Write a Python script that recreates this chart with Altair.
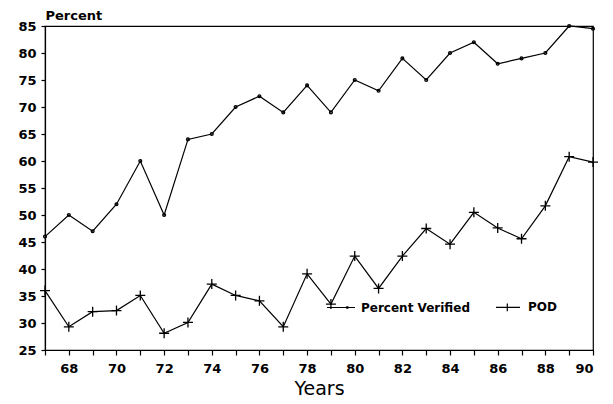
import altair as alt
import pandas as pd

years = list(range(1967, 1991))
verified = [46, 50, 47, 52, 60, 50, 64, 65, 70, 72, 69, 74, 69, 75, 73, 79, 75, 80, 82, 78, 79, 80, 85, 84.5]
pod = [36, 29.3, 32.1, 32.3, 35.1, 28.1, 30.1, 37.2, 35.1, 34.1, 29.3, 39.1, 33.5, 42.4, 36.4, 42.4,
       47.5, 44.6, 50.5, 47.6, 45.6, 51.7, 60.8, 59.8]
series_names = ["Percent Verified", "POD"]
y_ticks = list(range(25, 90, 5))

df = pd.DataFrame({
    "year": years * 2,
    "value": verified + pod,
    "series": [series_names[0]] * len(years) + [series_names[1]] * len(years),
})

FONT = "DejaVu Sans"
DOT = "M0,-1A1,1 0 1,1 0,1A1,1 0 1,1 0,-1Z"
CROSS = "M-1,0L1,0M0,-1L0,1"
LEG_DOT = "M-1,0L1,0M0.41,-0.04L0.49,-0.04L0.49,0.04L0.41,0.04Z"
LEG_CROSS = "M-0.86,0L0.86,0M-0.05,-0.28L-0.05,0.28"

x = alt.X("year:Q",
          scale=alt.Scale(domain=[1967, 1990], nice=False, zero=False),
          axis=alt.Axis(values=years, title="Years", grid=False,
                        labelExpr="datum.value % 2 == 0 ? format(datum.value % 100, '02d') : ''",
                        tickSize=5, labelPadding=7, titleFontSize=19, titleFontWeight="normal",
                        titlePadding=4, labelFontSize=13, labelFontWeight="bold"))
y = alt.Y("value:Q",
          scale=alt.Scale(domain=[25, 85], nice=False, zero=False),
          axis=alt.Axis(values=y_ticks, title="Percent", grid=False, titleAngle=0,
                        titleX=0, titleY=-7, titleAlign="left", titleBaseline="alphabetic",
                        titleFontSize=13, titleFontWeight="bold",
                        tickSize=4, labelPadding=5, labelFontSize=13, labelFontWeight="bold"))

base = alt.Chart(df)

lines = base.mark_line(color="black", strokeWidth=1.2).encode(x=x, y=y, detail="series:N")

points = base.mark_point(color="black", filled=False, strokeWidth=1.3, opacity=1).encode(
    x=x, y=y,
    shape=alt.Shape("series:N", scale=alt.Scale(domain=series_names, range=[DOT, CROSS]), legend=None),
    size=alt.Size("series:N", scale=alt.Scale(domain=series_names, range=[8, 100]), legend=None),
)

legend_layer = base.mark_point(color="black", filled=False, opacity=0, strokeWidth=1.2).encode(
    x=x, y=y,
    shape=alt.Shape("series:N",
                    scale=alt.Scale(domain=series_names, range=[LEG_DOT, LEG_CROSS]),
                    legend=alt.Legend(title=None, orient="none", direction="horizontal",
                                      legendX=281, legendY=266, symbolSize=784,
                                      symbolOpacity=1, symbolStrokeColor="black",
                                      symbolStrokeWidth=1.2, labelFontSize=12,
                                      labelFontWeight="bold", labelFont=FONT, labelColor="black",
                                      columnPadding=23, labelOffset=5, padding=0)),
)

chart = alt.layer(lines, points, legend_layer).resolve_scale(shape="independent").properties(
    width=548, height=324,
    autosize=alt.AutoSizeParams(type="none"),
    padding={"left": 37, "top": 18, "right": 10, "bottom": 52},
).configure_view(stroke="black", strokeWidth=1.2).configure_axis(
    domainColor="black", tickColor="black", labelColor="black", titleColor="black",
    labelFont=FONT, titleFont=FONT, domainWidth=1.2, tickWidth=1.2,
)

chart.save("out.html", embed_options={"renderer": "svg", "actions": False})
